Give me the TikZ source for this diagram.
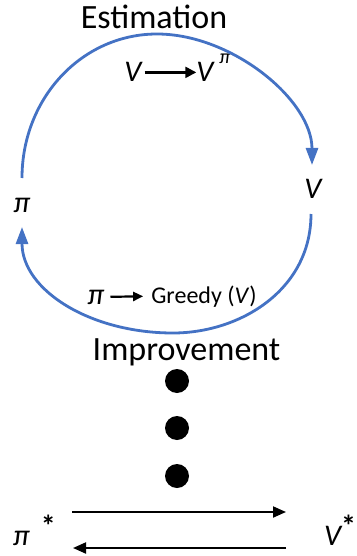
\documentclass[tikz,border=0pt]{standalone}
\usepackage{fontspec}
\setmainfont{Carlito}
\usetikzlibrary{arrows.meta}
\definecolor{cycblue}{RGB}{68,114,196}

\begin{document}
\begin{tikzpicture}[x=1pt,y=-1pt,>=Stealth,font=\fontsize{34}{40}\selectfont,
  cyc/.style={cycblue,line width=2.8pt,-{Triangle[length=17pt,width=12pt]}},
  blk/.style={black,line width=2pt,-{Triangle[length=13pt,width=11pt]}},
  txtarr/.style={black,line width=2.4pt,-{Triangle[length=11pt,width=11pt]}},
  sym/.style={font=\fontsize{30}{36}\selectfont\itshape,inner sep=0pt,anchor=base},
  lbl/.style={inner sep=0pt,anchor=base}]
 \useasboundingbox (0,0) rectangle (356,556);
 % titles
 \node[lbl] (est) at (154,29) {Estimation};
 \node[lbl] (impr) at (186.5,360) {Improvement};
 % policy and value
 \node[sym] (pi) at (22,212) {π};
 \node[sym] (v) at (313,198) {V};
 % estimation label
 \node[sym] (va) at (133,82) {V};
 \node[sym] (vb) at (205,82) {V};
 \node[sym,font=\fontsize{20}{24}\selectfont\itshape] (vbp) at (225,64) {π};
 \draw[txtarr,shorten <=3pt] (va.east) -- (vb.west);
 % improvement label
 \node[sym] (pb) at (96,304) {π};
 \node[lbl,font=\fontsize{24}{28}\selectfont] (greedy) at (204,303) {Greedy (\textit{V})};
 \draw[txtarr,line width=2.2pt,-{Triangle[length=10pt,width=9pt]},shorten <=6pt,shorten >=8pt] (pb.east) -- (greedy.west);
 % cycle
 \coordinate (eS) at (22,178);
 \coordinate (eE) at (312,165);
 \coordinate (iS) at (311,214);
 \coordinate (iE) at (22,227);
 \draw[cyc] (eS) .. controls (22,98) and (82,34) .. (157,34)
   .. controls (232,34) and (312,100) .. (eE);
 \draw[cyc] (iS) .. controls (311,290) and (240,333) .. (173,333)
   .. controls (90,333) and (22,290) .. (iE);
 % dots
 \foreach \y in {381,428,476} \fill (177,\y) circle (12);
 % optimum
 \node[sym,anchor=base west] (pistar) at (13,545) {π\hspace{11pt}\raisebox{9pt}{\upshape\bfseries *}};
 \node[sym,anchor=base west] (vstar) at (324,545) {V\hspace{0pt}\raisebox{9pt}{\upshape\bfseries *}};
 \coordinate (fS) at (72,512);
 \coordinate (fE) at (286,512);
 \coordinate (bS) at (286,548);
 \coordinate (bE) at (73,548);
 \draw[blk] (fS) -- (fE);
 \draw[blk] (bS) -- (bE);
\end{tikzpicture}
\end{document}
